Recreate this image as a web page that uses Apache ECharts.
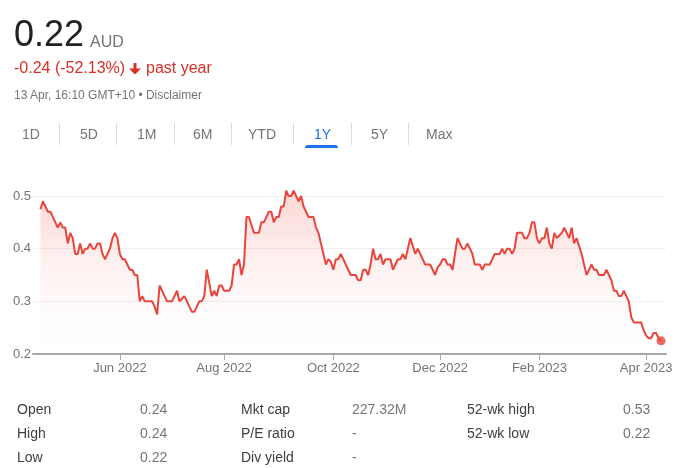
<!DOCTYPE html>
<html>
<head>
<meta charset="utf-8">
<script src="https://cdn.jsdelivr.net/npm/echarts@6/dist/echarts.min.js"></script>
<style>
  html, body { margin: 0; padding: 0; background: #fff; }
  body { width: 690px; height: 468px; overflow: hidden; position: relative; font-family: "Liberation Sans", Arial, sans-serif; }
  #chart { position: absolute; left: 0; top: 0; width: 690px; height: 468px; }
  .t { position: absolute; white-space: nowrap; line-height: 1; }
  .sep { position: absolute; top: 123px; width: 1px; height: 22px; background: #dadce0; }
</style>
</head>
<body>
<div id="chart"></div>

<div class="t" style="left:14px; top:16px; font-size:36px; color:#202124;">0.22</div>
<div class="t" style="left:90px; top:34px; font-size:16px; color:#70757a;">AUD</div>

<div class="t" style="left:14px; top:60px; font-size:16px; color:#d93025;">-0.24 (-52.13%)</div>
<svg style="position:absolute; left:129px; top:63px;" width="12" height="12" viewBox="0 0 12 12">
  <rect x="4.5" y="0" width="3" height="7" fill="#d93025"/>
  <polygon points="0,5.5 12,5.5 6,11.5" fill="#d93025"/>
</svg>
<div class="t" style="left:146px; top:60px; font-size:16px; color:#d93025;">past year</div>

<div class="t" style="left:14px; top:89px; font-size:12px; color:#70757a;">13 Apr, 16:10 GMT+10 &bull; Disclaimer</div>

<div id="tabs"></div>

<div id="stats"></div>

<script>
// ---- data ----
const startDate = '2022-04-13';
const endDate = '2023-04-13';
const holidays = ['2022-04-15','2022-04-18','2022-04-25','2022-06-13','2022-09-22',
                  '2022-12-26','2022-12-27','2023-01-02','2023-01-26','2023-04-07','2023-04-10'];
const prices = [
  0.475,0.49,0.48,0.47,0.47,0.46,0.45,0.44,0.45,0.44,
  0.44,0.41,0.43,0.42,0.39,0.39,0.41,0.39,0.40,0.40,
  0.41,0.40,0.40,0.41,0.41,0.39,0.38,0.39,0.40,0.42,
  0.43,0.42,0.39,0.38,0.38,0.37,0.36,0.36,0.35,0.35,
  0.30,0.31,0.30,0.30,0.30,0.30,0.29,0.275,0.33,0.32,
  0.31,0.30,0.30,0.30,0.31,0.32,0.30,0.305,0.31,0.30,
  0.29,0.28,0.28,0.29,0.30,0.30,0.31,0.36,0.335,0.31,
  0.32,0.31,0.33,0.33,0.32,0.32,0.32,0.33,0.37,0.37,
  0.38,0.35,0.37,0.46,0.46,0.445,0.43,0.43,0.43,0.45,
  0.45,0.46,0.47,0.47,0.45,0.46,0.46,0.48,0.48,0.51,
  0.50,0.50,0.51,0.50,0.49,0.50,0.48,0.47,0.46,0.46,
  0.46,0.44,0.43,0.41,0.39,0.37,0.38,0.375,0.36,0.38,
  0.38,0.39,0.38,0.37,0.36,0.35,0.35,0.35,0.34,0.34,
  0.36,0.36,0.35,0.37,0.40,0.38,0.38,0.39,0.37,0.38,
  0.38,0.38,0.36,0.37,0.38,0.38,0.39,0.38,0.40,0.42,
  0.405,0.39,0.40,0.39,0.38,0.37,0.37,0.37,0.36,0.35,
  0.365,0.37,0.38,0.38,0.37,0.37,0.36,0.39,0.42,0.41,
  0.40,0.40,0.41,0.40,0.39,0.37,0.37,0.37,0.36,0.37,
  0.37,0.37,0.38,0.39,0.39,0.39,0.40,0.39,0.40,0.40,
  0.39,0.40,0.43,0.43,0.43,0.42,0.42,0.43,0.45,0.45,
  0.42,0.41,0.42,0.42,0.44,0.41,0.40,0.43,0.42,0.425,
  0.43,0.44,0.43,0.42,0.44,0.41,0.42,0.405,0.39,0.37,
  0.35,0.36,0.37,0.36,0.36,0.35,0.35,0.35,0.36,0.35,
  0.34,0.32,0.32,0.31,0.31,0.32,0.31,0.30,0.27,0.26,
  0.26,0.26,0.26,0.245,0.235,0.23,0.23,0.24,0.24,0.23,
  0.225
];
const yTickValues = [0.2, 0.3, 0.4, 0.5];
const monthNames = ['Jan','Feb','Mar','Apr','May','Jun','Jul','Aug','Sep','Oct','Nov','Dec'];
const tabLabels = ['1D','5D','1M','6M','YTD','1Y','5Y','Max'];
const activeTab = '1Y';
const statLabels1 = ['Open','High','Low'];
const statValues1 = ['0.24','0.24','0.22'];
const statLabels2 = ['Mkt cap','P/E ratio','Div yield'];
const statValues2 = ['227.32M','-','-'];
const statLabels3 = ['52-wk high','52-wk low'];
const statValues3 = ['0.53','0.22'];

// ---- trading days ----
function ymd(d) {
  return d.getUTCFullYear() + '-' + String(d.getUTCMonth()+1).padStart(2,'0') + '-' + String(d.getUTCDate()).padStart(2,'0');
}
const tradingDates = [];
for (let d = new Date(startDate + 'T00:00:00Z'); ymd(d) <= endDate; d = new Date(d.getTime() + 86400000)) {
  const wd = d.getUTCDay();
  if (wd === 0 || wd === 6) continue;
  if (holidays.indexOf(ymd(d)) >= 0) continue;
  tradingDates.push(ymd(d));
}
const n = Math.min(tradingDates.length, prices.length);
const tickIdx = [];
for (let i = 1; i < n; i++) {
  const m0 = +tradingDates[i-1].slice(5,7), m1 = +tradingDates[i].slice(5,7);
  if (m0 !== m1 && m1 % 2 === 0) tickIdx.push(i);
}
function labelFor(i) {
  const ds = tradingDates[Math.round(i)];
  if (!ds) return '';
  return monthNames[+ds.slice(5,7) - 1] + ' ' + ds.slice(0,4);
}

// ---- HTML parts ----
const tabX = [22, 80, 137, 193, 248, 314, 371, 426];
const sepX = [59, 116, 174, 231, 293, 351, 408];
let tabsHtml = '';
tabLabels.forEach((t, i) => {
  const col = t === activeTab ? '#1a73e8' : '#70757a';
  tabsHtml += '<div class="t" style="left:' + tabX[i] + 'px; top:127px; font-size:14px; color:' + col + ';">' + t + '</div>';
});
sepX.forEach(x => { tabsHtml += '<div class="sep" style="left:' + x + 'px;"></div>'; });
tabsHtml += '<div style="position:absolute; left:305px; top:145px; width:33px; height:3px; background:#1a73e8; border-radius:3px 3px 0 0;"></div>';
document.getElementById('tabs').innerHTML = tabsHtml;

const rowTop = [402, 426, 450];
let sHtml = '';
function col(labels, values, lx, vx) {
  labels.forEach((l, i) => {
    sHtml += '<div class="t" style="left:' + lx + 'px; top:' + rowTop[i] + 'px; font-size:14px; color:#3c4043;">' + l + '</div>';
    sHtml += '<div class="t" style="left:' + vx + 'px; top:' + rowTop[i] + 'px; font-size:14px; color:#70757a;">' + values[i] + '</div>';
  });
}
col(statLabels1, statValues1, 17, 140);
col(statLabels2, statValues2, 241, 352);
col(statLabels3, statValues3, 467, 623);
document.getElementById('stats').innerHTML = sHtml;

// ---- chart ----
const chart = echarts.init(document.getElementById('chart'), null, { renderer: 'canvas' });
const lineColor = '#e8453c';
const seriesData = prices.slice(0, n).map((v, i) => [i, v]);
chart.setOption({
  animation: false,
  textStyle: { fontFamily: 'Liberation Sans, Arial, sans-serif' },
  grid: { left: 33, right: 24, top: 196, bottom: 114 },
  xAxis: {
    type: 'value',
    min: -3,
    max: n + 1,
    splitLine: { show: false },
    axisLine: { show: true, lineStyle: { color: '#a8a8a8', width: 2 } },
    axisTick: { show: true, length: 6, lineStyle: { color: '#a8a8a8', width: 1 }, customValues: tickIdx },
    axisLabel: { show: true, customValues: tickIdx, formatter: v => labelFor(v), color: '#70757a', fontSize: 13, margin: 8 },
    minorTick: { show: false }
  },
  yAxis: {
    type: 'value',
    min: yTickValues[0],
    max: yTickValues[yTickValues.length - 1],
    interval: 0.1,
    axisLine: { show: false },
    axisTick: { show: false },
    axisLabel: { color: '#70757a', fontSize: 13, margin: 2, formatter: v => v.toFixed(1) },
    splitLine: { show: true, lineStyle: { color: '#f0f0f0', width: 1 } }
  },
  series: [
    {
      type: 'line',
      data: seriesData,
      clip: false,
      showSymbol: false,
      symbol: 'none',
      silent: true,
      lineStyle: { color: lineColor, width: 2 },
      areaStyle: {
        color: new echarts.graphic.LinearGradient(0, 0, 0, 1, [
          { offset: 0, color: 'rgba(234,67,53,0.30)' },
          { offset: 0.45, color: 'rgba(234,67,53,0.10)' },
          { offset: 0.8, color: 'rgba(234,67,53,0.01)' },
          { offset: 1, color: 'rgba(234,67,53,0)' }
        ])
      }
    },
    {
      type: 'scatter',
      data: [seriesData[seriesData.length - 1]],
      symbolSize: 9,
      silent: true,
      clip: false,
      itemStyle: { color: lineColor }
    }
  ]
});
</script>
</body>
</html>
